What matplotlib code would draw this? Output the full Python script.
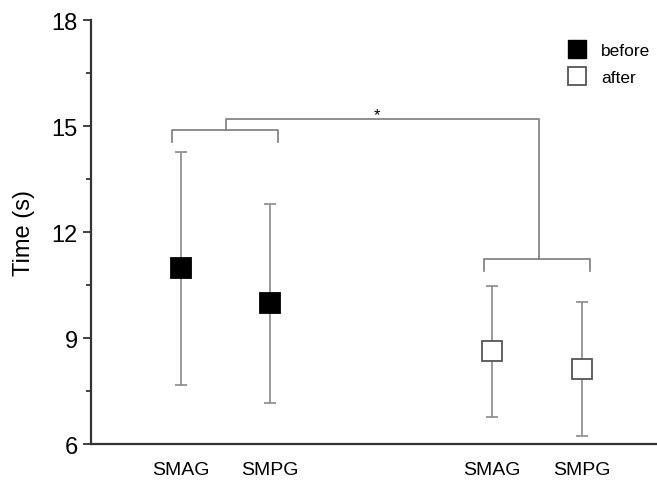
import numpy as np
import matplotlib.pyplot as plt
from matplotlib.lines import Line2D

plt.rcParams['font.family'] = ['Liberation Sans', 'DejaVu Sans']

labels = ['SMAG', 'SMPG', 'SMAG', 'SMPG']
xpos = [1, 2, 4.47, 5.47]
means = [10.97, 9.99, 8.63, 8.12]
upper = [14.26, 12.79, 10.47, 10.03]
lower = [7.67, 7.16, 6.76, 6.23]
groups = ['before', 'before', 'after', 'after']

fig = plt.figure(figsize=(6.57, 4.81), dpi=100)
ax = fig.add_axes([0.1385, 0.0748, 0.86, 0.8815])

for x, m, u, l, g in zip(xpos, means, upper, lower, groups):
    face = 'black' if g == 'before' else 'white'
    edge = 'black' if g == 'before' else '#555555'
    ax.errorbar(x, m, yerr=[[m - l], [u - m]], fmt='none', ecolor='#8a8a8a',
                elinewidth=1.2, capsize=4, capthick=1.2, zorder=2)
    ax.plot(x, m, marker='s', markersize=14, markerfacecolor=face,
            markeredgecolor=edge, markeredgewidth=1.3, linestyle='none', zorder=3)

# significance brackets
bc = '#7a7a7a'
ax.plot([xpos[0] - 0.1, xpos[0] - 0.1, xpos[1] + 0.08, xpos[1] + 0.08],
        [14.55, 14.89, 14.89, 14.55], color=bc, lw=1.2)
ax.plot([xpos[2] - 0.09, xpos[2] - 0.09, xpos[3] + 0.09, xpos[3] + 0.09],
        [10.9, 11.23, 11.23, 10.9], color=bc, lw=1.2)
xl = 1.51
xr = 5.0
ax.plot([xl, xl, xr, xr], [14.89, 15.2, 15.2, 11.23], color=bc, lw=1.2)
ax.text(3.19, 15.12, '*', ha='center', va='bottom', fontsize=12)

ax.set_xlim(0, 6.3)
ax.set_ylim(6, 18)
ax.set_yticks([6, 9, 12, 15, 18])
ax.set_yticks([7.5, 10.5, 13.5, 16.5], minor=True)
ax.set_xticks(xpos)
ax.set_xticklabels(labels, fontsize=14)
ax.tick_params(axis='x', length=0, pad=12)
ax.tick_params(axis='y', which='major', length=6, width=1.3, labelsize=17, colors='#333333', labelcolor='black')
ax.tick_params(axis='y', which='minor', length=3.5, width=1.3, colors='#333333')
ax.set_ylabel('Time (s)', fontsize=17, labelpad=12)

for s in ['top', 'right']:
    ax.spines[s].set_visible(False)
for s in ['left', 'bottom']:
    ax.spines[s].set_linewidth(1.6)
    ax.spines[s].set_color('#333333')

handles = [Line2D([], [], marker='s', color='none', markerfacecolor='black',
                  markeredgecolor='black', markersize=12.5, label='before'),
           Line2D([], [], marker='s', color='none', markerfacecolor='white',
                  markeredgecolor='#555555', markeredgewidth=1.3, markersize=12.5, label='after')]
ax.legend(handles=handles, loc='upper right', bbox_to_anchor=(1.012, 0.975), frameon=False,
          fontsize=12.5, handlelength=1.0, handletextpad=0.9, labelspacing=0.7, borderpad=0.2)

fig.savefig('out.png', dpi=100)
